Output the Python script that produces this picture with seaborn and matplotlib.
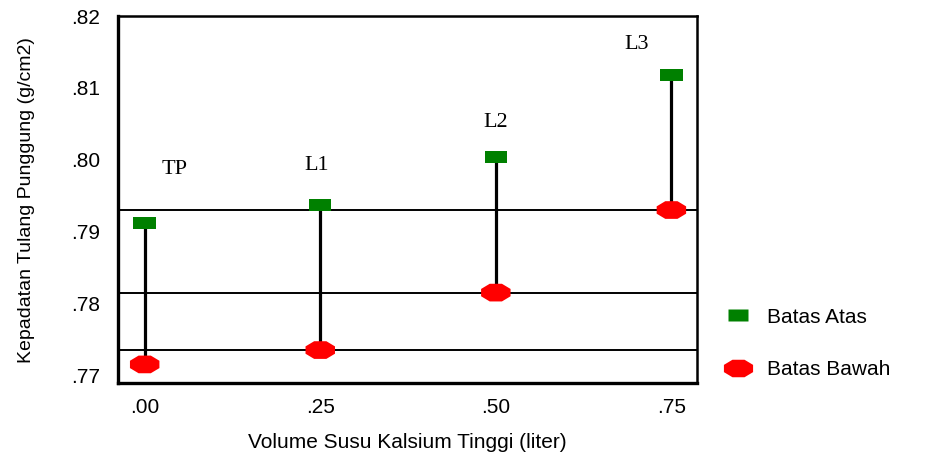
import numpy as np
import pandas as pd
import matplotlib
matplotlib.use("Agg")
import matplotlib.pyplot as plt
import seaborn as sns
from matplotlib.lines import Line2D
from matplotlib.ticker import FuncFormatter

# data
volume = [0.00, 0.25, 0.50, 0.75]
groups = ["TP", "L1", "L2", "L3"]
batas_atas = [0.7912, 0.7937, 0.8004, 0.8118]
batas_bawah = [0.7715, 0.7735, 0.7815, 0.7930]

# label positions (data coords)
label_x = [0.042, -0.005, 0.000, -0.050]
label_y = [0.7986, 0.7992, 0.8052, 0.8160]

df = pd.DataFrame({"volume": volume, "atas": batas_atas, "bawah": batas_bawah})

sns.set_style("white")
plt.rcParams["font.family"] = ["Liberation Sans", "DejaVu Sans"]
plt.rcParams["text.color"] = "black"
plt.rcParams["axes.labelcolor"] = "black"
plt.rcParams["xtick.color"] = "black"
plt.rcParams["ytick.color"] = "black"

fig = plt.figure(figsize=(9.44, 4.61), dpi=100)
ax = fig.add_axes([0.125, 0.169, 0.613, 0.796])

# reference lines at lower bounds of L1, L2, L3
for v in batas_bawah[1:]:
    ax.axhline(v, color="black", lw=1.4, zorder=1)

ax.vlines(df["volume"], df["bawah"], df["atas"], color="black", lw=2.3, zorder=2)

rect = [(-1, -0.55), (1, -0.55), (1, 0.55), (-1, 0.55), (-1, -0.55)]
ang = np.deg2rad(np.arange(22.5, 382.5, 45))
octa = [(np.cos(a), 0.6 * np.sin(a)) for a in ang]

sns.scatterplot(data=df, x="volume", y="atas", marker=rect, s=260, color="#008000",
                edgecolor="none", ax=ax, zorder=3)
sns.scatterplot(data=df, x="volume", y="bawah", marker=octa, s=450, color="#ff0000",
                edgecolor="none", ax=ax, zorder=3)

for i, g in enumerate(groups):
    ax.text(volume[i] + label_x[i], label_y[i], g, ha="center", va="center",
            family="Liberation Serif", fontsize=16)

ax.set_xlim(-0.038, 0.786)
ax.set_ylim(0.7689, 0.820)
ax.set_xticks(volume)
ax.set_yticks([0.77, 0.78, 0.79, 0.80, 0.81, 0.82])
fmt = FuncFormatter(lambda v, p: f"{v:.2f}".lstrip("0"))
ax.xaxis.set_major_formatter(fmt)
ax.yaxis.set_major_formatter(fmt)
ax.tick_params(axis="x", direction="out", length=5, width=2, labelsize=15, pad=6)
ax.tick_params(axis="y", length=0, labelsize=15, pad=13)

for s in ["left", "bottom"]:
    ax.spines[s].set_linewidth(2.4)
for s in ["top", "right"]:
    ax.spines[s].set_linewidth(1.8)
for s in ax.spines.values():
    s.set_color("black")

ax.set_xlabel("Volume Susu Kalsium Tinggi (liter)", fontsize=15, labelpad=11)
ax.set_ylabel("Kepadatan Tulang Punggung (g/cm2)", fontsize=14, labelpad=26)

handles = [
    Line2D([], [], ls="none", marker=rect, markersize=15, color="#008000", mec="none"),
    Line2D([], [], ls="none", marker=octa, markersize=21, color="#ff0000", mec="none"),
]
fig.legend(handles, ["Batas Atas", "Batas Bawah"], loc="center left",
           bbox_to_anchor=(0.746, 0.255), frameon=False, fontsize=15,
           labelspacing=1.6, handletextpad=0.7, handlelength=1.4)

fig.savefig("out.png", dpi=100)
